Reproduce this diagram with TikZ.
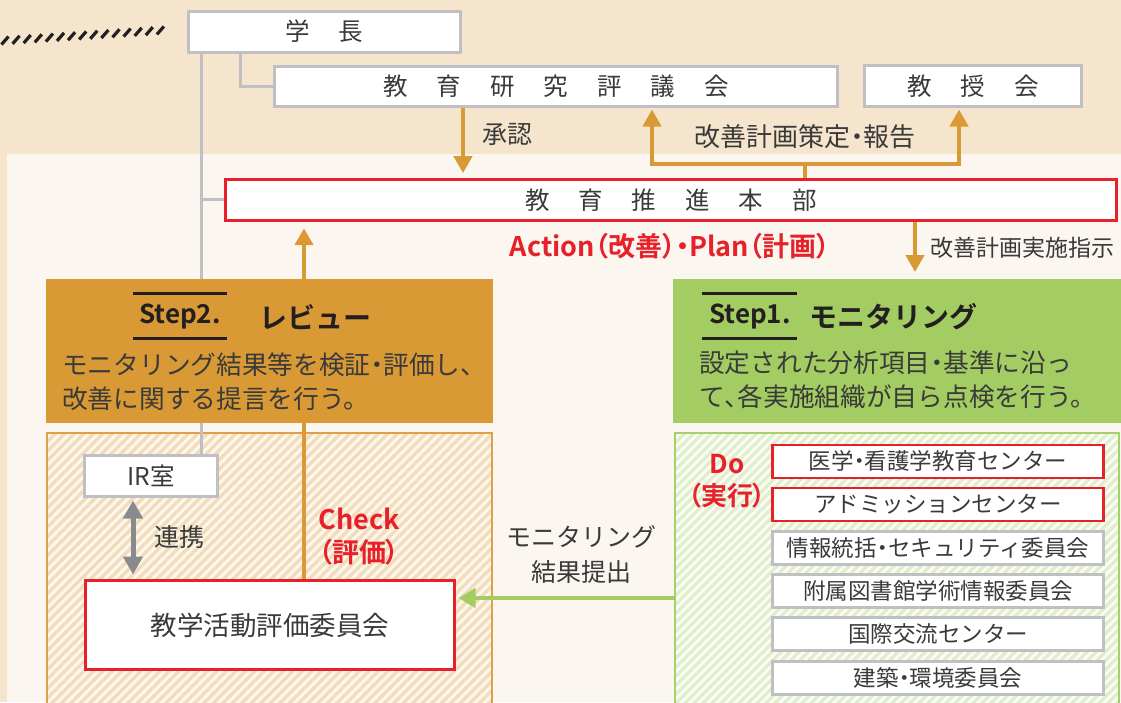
\documentclass[tikz,border=0pt]{standalone}
\usepackage{fontspec}
\setmainfont{Noto Sans CJK JP}[BoldFont={Noto Sans CJK JP Bold}]
\newfontfamily\jpp{Noto Sans CJK JP}[BoldFont={Noto Sans CJK JP Bold},RawFeature=+palt]
\usetikzlibrary{arrows.meta,calc}
\pgfdeclarelayer{back}
\pgfdeclarelayer{mid}
\pgfsetlayers{back,mid,main}
\definecolor{bgbeige}{HTML}{F5E5CD}
\definecolor{bglight}{HTML}{FBF7F0}
\definecolor{ora}{HTML}{D99A35}
\definecolor{oraline}{HTML}{DFA04A}
\definecolor{orastripe}{HTML}{F3DDB9}
\definecolor{grn}{HTML}{A3CD62}
\definecolor{grnline}{HTML}{A6D06A}
\definecolor{grnstripe}{HTML}{E0EECB}
\definecolor{grnbg}{HTML}{FBFCF6}
\definecolor{redc}{HTML}{E8202A}
\definecolor{grayb}{HTML}{C0C0C4}
\definecolor{darkg}{HTML}{898A8D}
\definecolor{txt}{HTML}{3A3A3A}
\definecolor{blk}{HTML}{231F20}
\newcommand{\myfs}[2]{\fontsize{#1}{#2}\selectfont}
\newcommand{\sgap}{\hspace{29pt}}
\newcommand{\nd}{{\jpp ・}}
\newcommand{\ncm}{{\jpp 、}}
\tikzset{
  graybox/.style={draw=grayb, line width=3pt, fill=white, inner sep=0pt, outer sep=0pt, text=txt},
  redbox/.style={draw=redc, line width=2.6pt, fill=white, inner sep=0pt, outer sep=0pt, text=txt},
  sidebox/.style={minimum width=331pt, minimum height=33pt, font=\myfs{22.5}{26}},
  gline/.style={draw=grayb, line width=3pt},
  oarrow/.style={draw=ora, line width=4.5pt, -{Triangle[width=18pt,length=17pt]}},
  oline/.style={draw=ora, line width=4.5pt},
  garrow/.style={draw=grn, line width=4.5pt, -{Triangle[width=19pt,length=17pt]}},
  darrow/.style={draw=darkg, line width=5pt, {Triangle[width=19pt,length=18pt]}-{Triangle[width=19pt,length=18pt]}},
  plain/.style={text=txt, inner sep=0pt},
  redlbl/.style={text=redc, inner sep=0pt, align=center},
  stepbody/.style={text=txt, inner sep=0pt, align=left, anchor=west, font=\myfs{25.7}{33.5}},
  stephead/.style={text=blk, inner sep=0pt, font=\myfs{26}{30}\bfseries},
  steptitle/.style={text=blk, inner sep=0pt, anchor=west, font=\myfs{28}{32}\bfseries},
  steprule/.style={draw=blk, line width=3pt},
}
\begin{document}
\begin{tikzpicture}[x=1pt,y=-1pt]
\useasboundingbox (0,0) rectangle (1121,702);
\begin{pgfonlayer}{back}
\fill[bgbeige] (0,0) rectangle (1121,702);
\fill[bglight] (7,154) rectangle (1121,702);
\foreach \i in {0,...,14} \draw[blk, line width=3.2pt] ({1.5+11.1*\i},{44.5-0.72*\i}) -- ++(7,-8);
% orange hatched area
\fill[bglight] (47,433) rectangle (492,712);
\begin{scope}
\clip (47,433) rectangle (492,712);
\foreach \c in {470,479.5,...,1215} \draw[orastripe, line width=3.4pt] (\c-712,712) -- (\c-433,433);
\end{scope}
\node[draw=oraline, line width=2pt, minimum width=445pt, minimum height=280pt, inner sep=0pt, outer sep=0pt, anchor=north west] (hatch2) at (47,433) {};
% green hatched area
\fill[grnbg] (675,433) rectangle (1119,712);
\begin{scope}
\clip (675,433) rectangle (1119,712);
\foreach \c in {1100,1109,...,1840} \draw[grnstripe, line width=3.2pt] (\c-712,712) -- (\c-433,433);
\end{scope}
\node[draw=grnline, line width=2.5pt, minimum width=444pt, minimum height=280pt, inner sep=0pt, outer sep=0pt, anchor=north west] (hatch1) at (675,433) {};
\end{pgfonlayer}

% boxes
\node[graybox, minimum width=272pt, minimum height=41pt, font=\myfs{24.5}{30}] (gakucho) at (324.5,31.5) {学\sgap 長};
\node[graybox, minimum width=563pt, minimum height=40pt, font=\myfs{24.5}{30}] (kyoken) at (556,86.5) {教\sgap 育\sgap 研\sgap 究\sgap 評\sgap 議\sgap 会};
\node[graybox, minimum width=217pt, minimum height=41pt, font=\myfs{24.5}{30}] (kyoju) at (973,86) {教\sgap 授\sgap 会};
\node[redbox, minimum width=891pt, minimum height=41pt, font=\myfs{24.5}{30}] (suishin) at (671,199.7) {教\sgap 育\sgap 推\sgap 進\sgap 本\sgap 部};

\node[fill=ora, minimum width=447pt, minimum height=144pt, inner sep=0pt, outer sep=0pt, anchor=north west] (step2) at (46,279) {};
\node[fill=grn, minimum width=452pt, minimum height=144pt, inner sep=0pt, outer sep=0pt, anchor=north west] (step1) at (673,279) {};

\node[graybox, minimum width=133pt, minimum height=41pt, font=\myfs{24.5}{30}] (ir) at (151,476) {IR室};
\node[redbox, minimum width=369pt, minimum height=89pt, font=\myfs{26.5}{30}] (iinkai) at (270,625) {教学活動評価委員会};

\node[redbox, sidebox] (d1) at (938,461.3) {医学\nd 看護学教育センター};
\node[redbox, sidebox] (d2) at (938,504.3) {アドミッションセンター};
\node[graybox, sidebox] (d3) at (938,547.7) {情報統括\nd セキュリティ委員会};
\node[graybox, sidebox] (d4) at (938,591) {附属図書館学術情報委員会};
\node[graybox, sidebox] (d5) at (938,634.3) {国際交流センター};
\node[graybox, sidebox] (d6) at (938,677.7) {建築\nd 環境委員会};

% alignment coordinates
\coordinate (cA) at (463,0);
\coordinate (cB) at (652,0);
\coordinate (cC) at (959,0);
\coordinate (cD) at (805,0);
\coordinate (cE) at (915,0);
\coordinate (cF) at (304,0);
\coordinate (cG) at (201,0);
\coordinate (cH) at (240,0);
\coordinate (cI) at (133,0);
\coordinate (rJ) at (0,598);

\begin{pgfonlayer}{mid}
\draw[gline] (gakucho.south -| cG) -- (ir.north -| cG);
\draw[gline] (suishin.west) -- (suishin.west -| cG);
\draw[gline] (gakucho.south -| cH) |- (kyoken.west);
\draw[oarrow, shorten >=6pt] (kyoken.south -| cA) -- (suishin.north -| cA);
\draw[oline] (suishin.north -| cD) -- ++(0,-15) coordinate (rj);
\draw[oarrow, shorten >=3pt] (rj) -| (kyoken.south -| cB);
\draw[oarrow, shorten >=3pt] (rj) -| (kyoju.south -| cC);
\draw[oarrow, shorten >=7pt] (suishin.south -| cE) -- (step1.north -| cE);
\draw[oarrow, shorten >=8pt] (iinkai.north -| cF) -- (suishin.south -| cF);
\draw[garrow, shorten >=4pt] (hatch1.west |- rJ) -- (iinkai.east |- rJ);
\draw[darrow, shorten <=4pt, shorten >=6pt] (ir.south -| cI) -- (iinkai.north -| cI);
\end{pgfonlayer}

% step boxes content
\node[stephead] (s2t) at (180,316) {Step2.};
\draw[steprule] (133,293) -- (227,293);
\draw[steprule] (133,338) -- (227,338);
\node[steptitle] (s2h) at (259,317) {レビュー};
\node[stepbody] (s2b) at (62,381.5) {モニタリング結果等を検証\nd 評価し、\\改善に関する提言を行う。};

\node[stephead] (s1t) at (750,316) {Step1.};
\draw[steprule] (702,293) -- (797,293);
\draw[steprule] (702,338) -- (797,338);
\node[steptitle] (s1h) at (809,317) {モニタリング};
\node[stepbody] (s1b) at (699,380) {設定された分析項目\nd 基準に沿っ\\て\ncm 各実施組織が自ら点検を行う。};

% labels
\node[plain, font=\myfs{25}{30}] (shonin) at (507,134) {承認};
\node[plain, font=\myfs{26}{30}] (kaizen) at (805,137) {改善計画策定\nd 報告};
\node[redlbl, font=\jpp\myfs{27}{30}\bfseries] (apdo) at (670,246) {Action（改善）・Plan（計画）};
\node[plain, anchor=west, font=\myfs{23}{28}] (shiji) at (930,248) {改善計画実施指示};
\node[plain, font=\myfs{25}{30}] (renkei) at (179,537) {連携};
\node[redlbl, font=\jpp\myfs{27}{33}\bfseries] (check) at (359,536.5) {Check\\（評価）};
\node[plain, align=center, font=\myfs{25}{35}] (mon) at (581,554.5) {モニタリング\\結果提出};
\node[redlbl, font=\jpp\myfs{26}{32}\bfseries] (doo) at (727,481) {Do\\（実行）};
\end{tikzpicture}
\end{document}
